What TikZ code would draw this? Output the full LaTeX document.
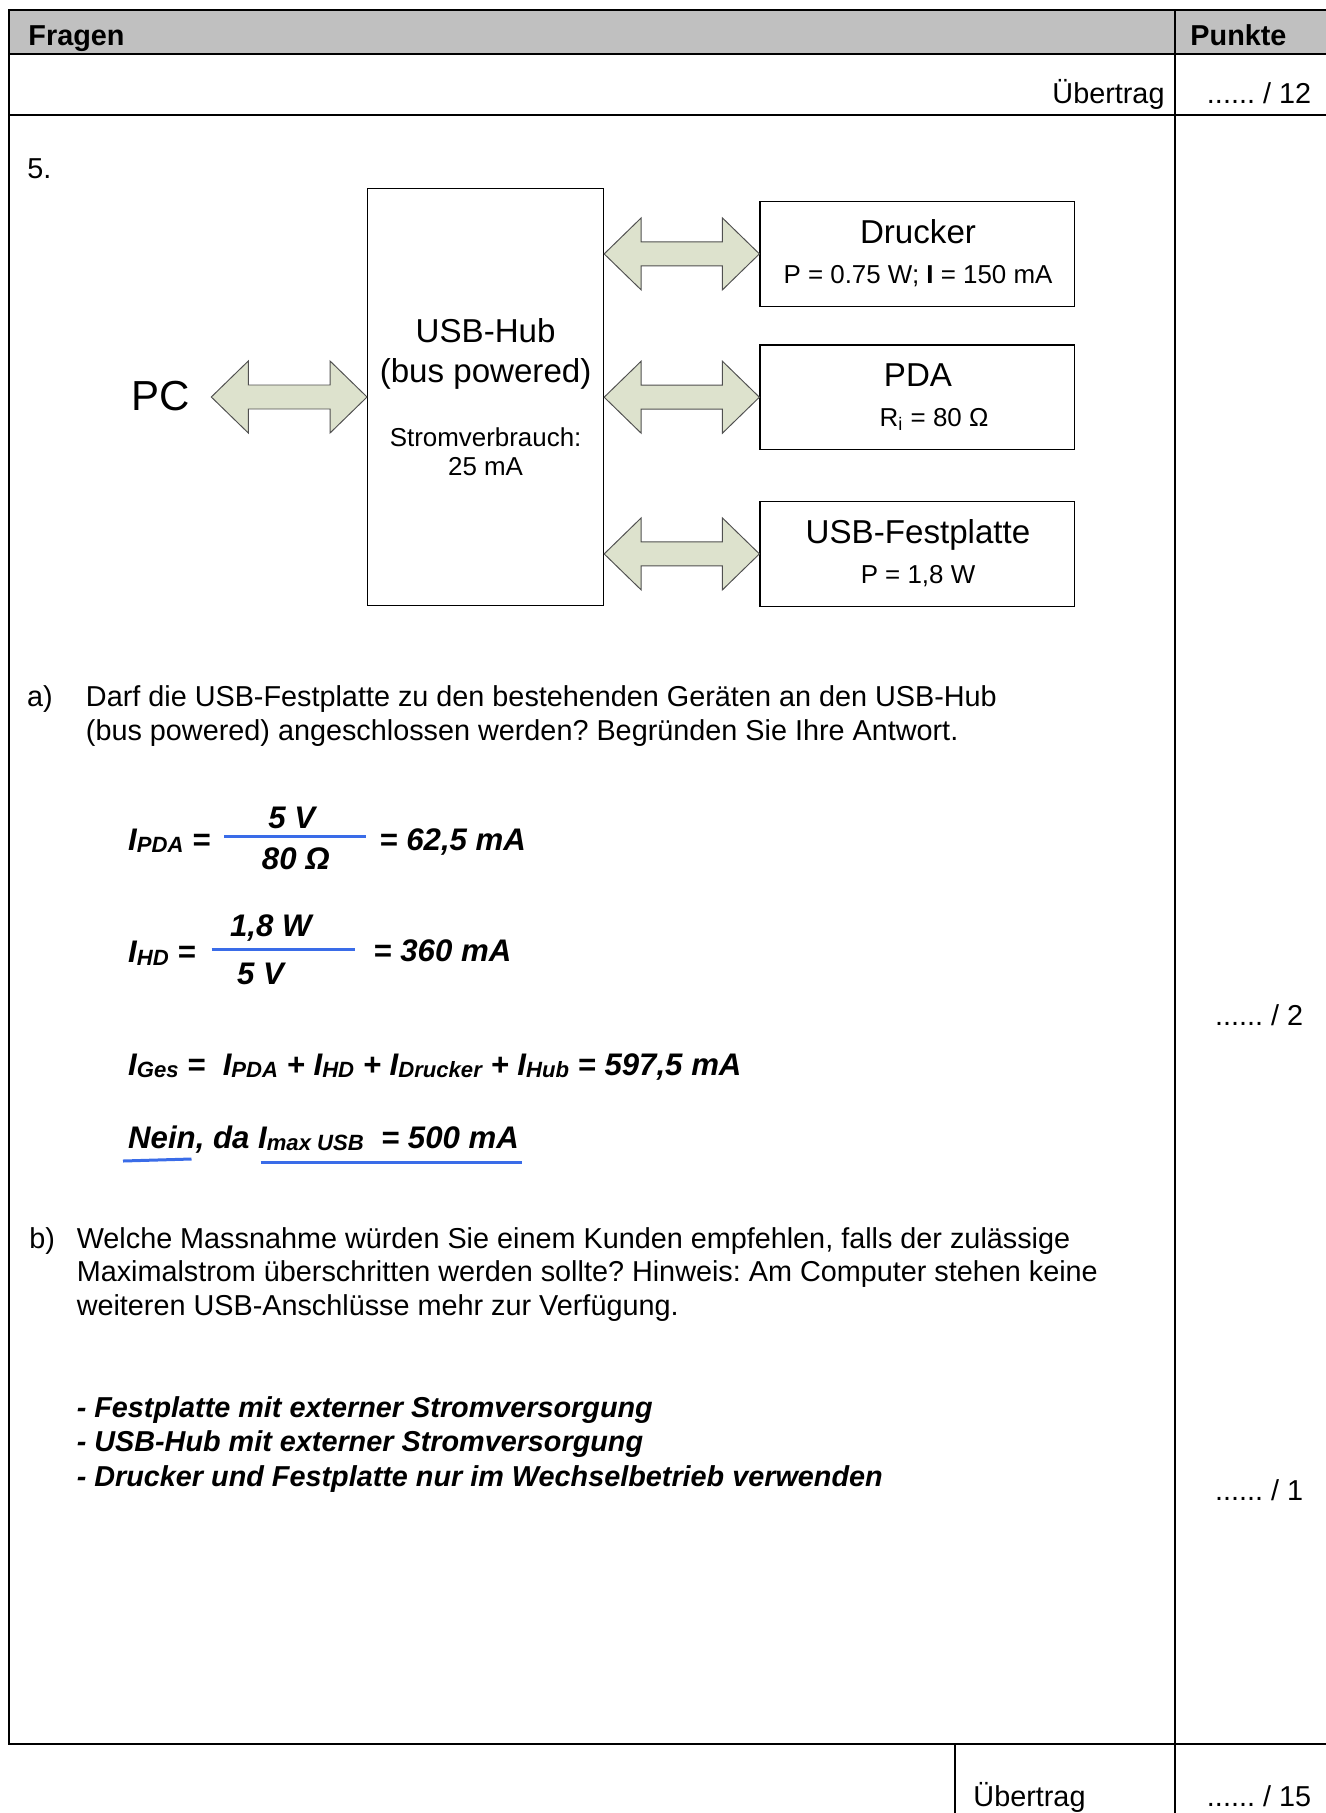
\documentclass[tikz,border=0pt]{standalone}
\usepackage{fontspec}
\setmainfont{Liberation Sans}
\definecolor{HeadGray}{RGB}{192,192,192}
\definecolor{PortFill}{RGB}{221,226,205}
\definecolor{PortLine}{RGB}{80,80,80}
\definecolor{MarkBlue}{RGB}{58,108,232}
\usetikzlibrary{calc}
\newcommand{\busarrow}[2]{%
  \draw[port] (#1) -- ($(#1)+(37,-36)$) -- ($(#1)+(37,-12)$) -- ($(#2)+(-37,-12)$)
    -- ($(#2)+(-37,-36)$) -- (#2) -- ($(#2)+(-37,36)$) -- ($(#2)+(-37,12)$)
    -- ($(#1)+(37,12)$) -- ($(#1)+(37,36)$) -- cycle;}
\newcommand{\idx}[1]{\raisebox{-1.1pt}{\fontsize{9.2}{10}\selectfont #1}}

\begin{document}
\frenchspacing
\begin{tikzpicture}[x=0.4167pt, y=-0.4167pt,
    every node/.style={inner sep=0pt, font=\fontsize{12}{14}\selectfont},
    frameline/.style={line width=1pt},
    hubbox/.style={draw, line width=0.5pt, minimum width=98.3pt, minimum height=173.9pt},
    devbox/.style={draw, line width=0.5pt, minimum width=131.1pt, minimum height=43.5pt},
    big/.style={font=\fontsize{13.8}{16}\selectfont},
    small/.style={font=\fontsize{10.8}{13}\selectfont},
    eqn/.style={font=\fontsize{13}{15}\selectfont\bfseries\itshape},
    port/.style={draw=PortLine, line width=0.4pt, fill=PortFill},
    bluemark/.style={MarkBlue, line width=1.25pt}]
    \useasboundingbox (0,0) rectangle (1326,1813);
    \fill[HeadGray] (9,10) rectangle (1326,54);
    \draw[frameline] (1326,10) -- (9,10) -- (9,1744) -- (1326,1744);
    \draw[frameline] (9,54) -- (1326,54) (9,115) -- (1326,115);
    \draw[frameline] (1175,10) -- (1175,1813);
    \draw[frameline] (955,1744) -- (955,1813);
    \node[anchor=base west, font=\fontsize{12}{14}\selectfont\bfseries] (fragen) at (28,45) {Fragen};
    \node[anchor=base west, font=\fontsize{12}{14}\selectfont\bfseries] (punkte) at (1190,45) {Punkte};
    \node[anchor=base east] (uebertragtop) at (1165,103) {Übertrag};
    \node[anchor=base] (ptstop) at (1259,103) {...... / 12};
    \node[anchor=base west] (nr) at (27,178) {5.};

    \node[hubbox] (hub) at (485.6,397) {};
    \node[devbox] (drucker) at (917.3,253.9) {};
    \node[devbox] (pda) at (917.3,397.2) {};
    \node[devbox] (hdd) at (917.3,553.9) {};
    \node[anchor=base, font=\fontsize{17.5}{20}\selectfont, inner xsep=8.6pt] (pc) at (161,410) {PC};
    \node[big, anchor=base] (hubname) at (485.6,342) {USB-Hub};
    \node[big, anchor=base] (hubmode) at (485.6,382) {(bus powered)};
    \node[small, anchor=base] (hubload) at (485.6,446.7) {Stromverbrauch:};
    \node[small, anchor=base] (hubcurr) at (485.6,475) {25 mA};
    \node[big, anchor=base] (druckername) at (918,243.3) {Drucker};
    \node[small, anchor=base] (druckerdata) at (918,283.3) {P = 0.75 W; \textbf{I} = 150 mA};
    \node[big, anchor=base] (pdaname) at (918,386.7) {PDA};
    \node[small, anchor=base] (pdadata) at (934,426.5) {R\textsubscript{i} = 80 Ω};
    \node[big, anchor=base] (hddname) at (918,543.3) {USB-Festplatte};
    \node[small, anchor=base] (hdddata) at (918,583.3) {P = 1,8 W};
    \busarrow{pc.east |- hub.west}{hub.west}
    \busarrow{hub.east |- drucker.west}{drucker.west}
    \busarrow{hub.east |- pda.west}{pda.west}
    \busarrow{hub.east |- hdd.west}{hdd.west}

    \node[anchor=base west] (qa) at (26.6,706) {a)};
    \node[anchor=base west, align=left] (qatext) at (85.5,740) {Darf die USB-Festplatte zu den bestehenden Geräten an den USB-Hub\\(bus powered) angeschlossen werden? Begründen Sie Ihre Antwort.};
    \node[eqn, anchor=base west] (ipda) at (127.7,850) {I\idx{PDA} =};
    \node[eqn, anchor=base] (ipdanum) at (291.7,828) {5 V};
    \node[eqn, anchor=base] (ipdaden) at (295.8,869) {80 Ω};
    \node[eqn, anchor=base west] (ipdares) at (379,850) {= 62,5 mA};
    \draw[bluemark] (224,836) -- (366,836);
    \node[eqn, anchor=base west] (ihd) at (127.7,962.7) {I\idx{HD} =};
    \node[eqn, anchor=base] (ihdnum) at (270.8,936.7) {1,8 W};
    \node[eqn, anchor=base] (ihdden) at (260.5,984) {5 V};
    \node[eqn, anchor=base west] (ihdres) at (373,961.7) {= 360 mA};
    \draw[bluemark] (211.6,949) -- (354.5,949);
    \node[eqn, anchor=base west] (iges) at (127.7,1075) {I\idx{Ges} =\ \ I\idx{PDA} + I\idx{HD} + I\idx{Drucker} + I\idx{Hub} = 597,5 mA};
    \node[eqn, anchor=base west] (verdict) at (127.7,1148) {Nein, da I\idx{max USB}\ \ = 500 mA};
    \draw[bluemark] (123,1161) -- (191.5,1159);
    \draw[bluemark] (260.7,1162.3) -- (521.9,1162.3);
    \node[anchor=base] (ptsa) at (1259,1025) {...... / 2};

    \node[anchor=base west] (qb) at (29,1248) {b)};
    \node[anchor=base west, align=left] (qbtext) at (76.3,1315.5) {Welche Massnahme würden Sie einem Kunden empfehlen, falls der zulässige\\Maximalstrom überschritten werden sollte? Hinweis: Am Computer stehen keine\\weiteren USB-Anschlüsse mehr zur Verfügung.};
    \node[anchor=base west, align=left, font=\fontsize{12}{14.45}\selectfont\bfseries\itshape] (answers) at (76.3,1486.6) {- Festplatte mit externer Stromversorgung\\- USB-Hub mit externer Stromversorgung\\- Drucker und Festplatte nur im Wechselbetrieb verwenden};
    \node[anchor=base] (ptsb) at (1259,1500) {...... / 1};
    \node[anchor=base west] (uebertragbot) at (973,1806) {Übertrag};
    \node[anchor=base] (ptsbot) at (1259,1806) {...... / 15};
  \end{tikzpicture}
\end{document}
